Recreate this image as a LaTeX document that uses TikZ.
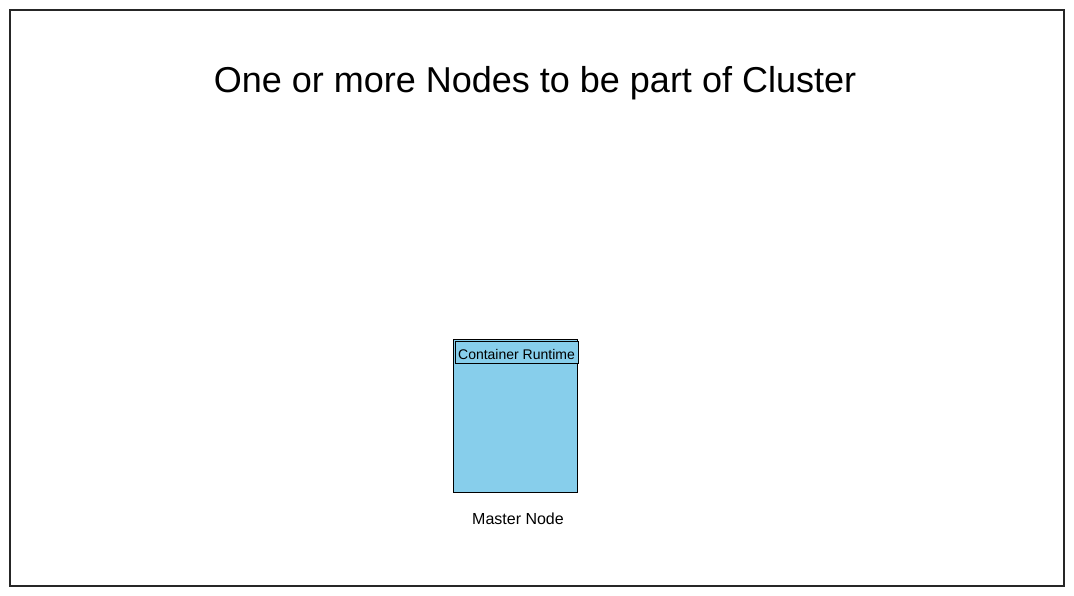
\documentclass[tikz,border=0pt]{standalone}
\usepackage{fontspec}
\setmainfont{Liberation Sans}
\usepackage{tikz}
\usetikzlibrary{positioning, calc}
\definecolor{nodeblue}{HTML}{87CEEB}

\begin{document}
\begin{tikzpicture}[x=1pt, y=-1pt]
      % Page
      \useasboundingbox (0,0) rectangle (1074,596);
      \draw[line width=1.2pt, draw=black!85] (10,10) rectangle (1064,586);

      % Title
      \node[font=\fontsize{36}{40}\selectfont] (title) at (535,83) {One or more Nodes to be part of Cluster};

      % Master node
      \draw[fill=nodeblue, line width=1pt] (453,339) rectangle (577,492);
      \node[draw, fill=nodeblue, line width=1pt, minimum width=123pt, minimum height=22pt,
        inner sep=0pt, font=\fontsize{14}{16}\selectfont] (runtime) at (516.5,352) {};
      \node[font=\fontsize{14}{16}\selectfont] (runtimelabel) at (516.5,354) {Container Runtime};
      \node[font=\fontsize{16}{18}\selectfont] (master) at (518,519) {Master Node};
    \end{tikzpicture}
\end{document}
